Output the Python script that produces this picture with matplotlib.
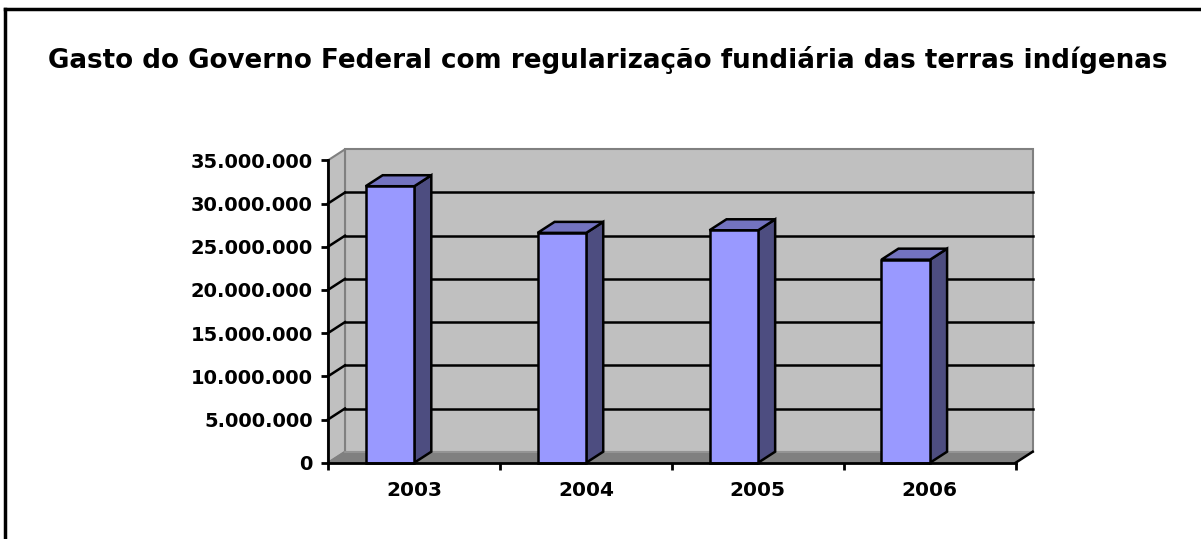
import numpy as np
import matplotlib.pyplot as plt
from matplotlib.patches import Polygon, Rectangle
from matplotlib.lines import Line2D

years = ['2003', '2004', '2005', '2006']
gasto = [32000000, 26600000, 26900000, 23500000]
yticks = [0, 5000000, 10000000, 15000000, 20000000, 25000000, 30000000, 35000000]
ytick_labels = ['0', '5.000.000', '10.000.000', '15.000.000', '20.000.000',
                '25.000.000', '30.000.000', '35.000.000']
title = 'Gasto do Governo Federal com regularização fundiária das terras indígenas'

W, H = 1201, 539
fig = plt.figure(figsize=(W / 100, H / 100), dpi=100)

# front plot box in pixels
x0, x1 = 328, 1015.7
y0, y1 = 462.7, 160.3
ax = fig.add_axes([x0 / W, 1 - y0 / H, (x1 - x0) / W, (y0 - y1) / H])
ymax = 35000000
ax.set_xlim(0, 4)
ax.set_ylim(0, ymax)

# 3d depth offset (17 px right, 11 px up)
dx = 17 / ((x1 - x0) / 4)
dy = 11 * ymax / (y0 - y1)

wall = '#c0c0c0'
edge_grey = '#808080'
n = len(years)

# back wall + left wall + floor
ax.add_patch(Rectangle((dx, dy), n, ymax, facecolor=wall, edgecolor=edge_grey,
                       lw=1.5, clip_on=False, zorder=1))
ax.add_patch(Polygon([(0, 0), (dx, dy), (dx, ymax + dy), (0, ymax)], closed=True,
                     facecolor=wall, edgecolor=edge_grey, lw=1.5, clip_on=False, zorder=1))
ax.add_patch(Polygon([(0, 0), (n, 0), (n + dx, dy), (dx, dy)], closed=True,
                     facecolor=edge_grey, edgecolor=edge_grey, lw=1, clip_on=False, zorder=1.5))
ax.plot([dx, n + dx], [dy, dy], color='#999999', lw=1.2, clip_on=False, zorder=1.6)

# gridlines on walls
for v in yticks[1:-1]:
    ax.plot([dx, n + dx], [v + dy, v + dy], color='black', lw=1.8, clip_on=False, zorder=2)
    ax.plot([0, dx], [v, v + dy], color='black', lw=1.8, clip_on=False, zorder=2)

# bars
front = '#9999ff'
top = '#7373c0'
side = '#4d4d80'
bw = 0.283
for i, v in enumerate(gasto):
    xl = i + 0.219
    xr = xl + bw
    ax.add_patch(Polygon([(xr, 0), (xr + dx, dy), (xr + dx, v + dy), (xr, v)], closed=True,
                         facecolor=side, edgecolor='black', lw=1.8, clip_on=False, zorder=3))
    ax.add_patch(Polygon([(xl, v), (xr, v), (xr + dx, v + dy), (xl + dx, v + dy)], closed=True,
                         facecolor=top, edgecolor='black', lw=1.8, clip_on=False, zorder=3))
    ax.add_patch(Rectangle((xl, 0), bw, v, facecolor=front, edgecolor='black',
                           lw=1.8, clip_on=False, zorder=4))

# axis lines
ax.plot([n, n + dx], [0, dy], color='black', lw=1.8, clip_on=False, zorder=5)
ax.patch.set_visible(False)
for s in ['top', 'right']:
    ax.spines[s].set_visible(False)
ax.spines['left'].set_linewidth(2)
ax.spines['bottom'].set_linewidth(2)
ax.spines['left'].set_zorder(6)
ax.spines['bottom'].set_zorder(6)

ax.set_yticks(yticks)
ax.set_yticklabels(ytick_labels, fontsize=14, fontweight='bold')
ax.tick_params(axis='y', length=5, width=2, pad=6)
ax.set_xticks(np.arange(n + 1))
ax.set_xticklabels([])
ax.tick_params(axis='x', which='major', length=5, width=2)
ax.set_xticks(np.arange(n) + 0.5, minor=True)
ax.set_xticklabels(years, minor=True, fontsize=14.5, fontweight='bold')
ax.tick_params(axis='x', which='minor', length=0, pad=13)

fig.text(608 / W, 1 - 60 / H, title, ha='center', va='center', fontsize=18.8, fontweight='bold')

# outer frame (only top and left edges visible)
fig.add_artist(Line2D([5 / W, 5 / W], [0, 1 - 9 / H], color='black', lw=2.5))
fig.add_artist(Line2D([5 / W, 1], [1 - 9 / H, 1 - 9 / H], color='black', lw=2.5))

fig.savefig('out.png', dpi=100)
